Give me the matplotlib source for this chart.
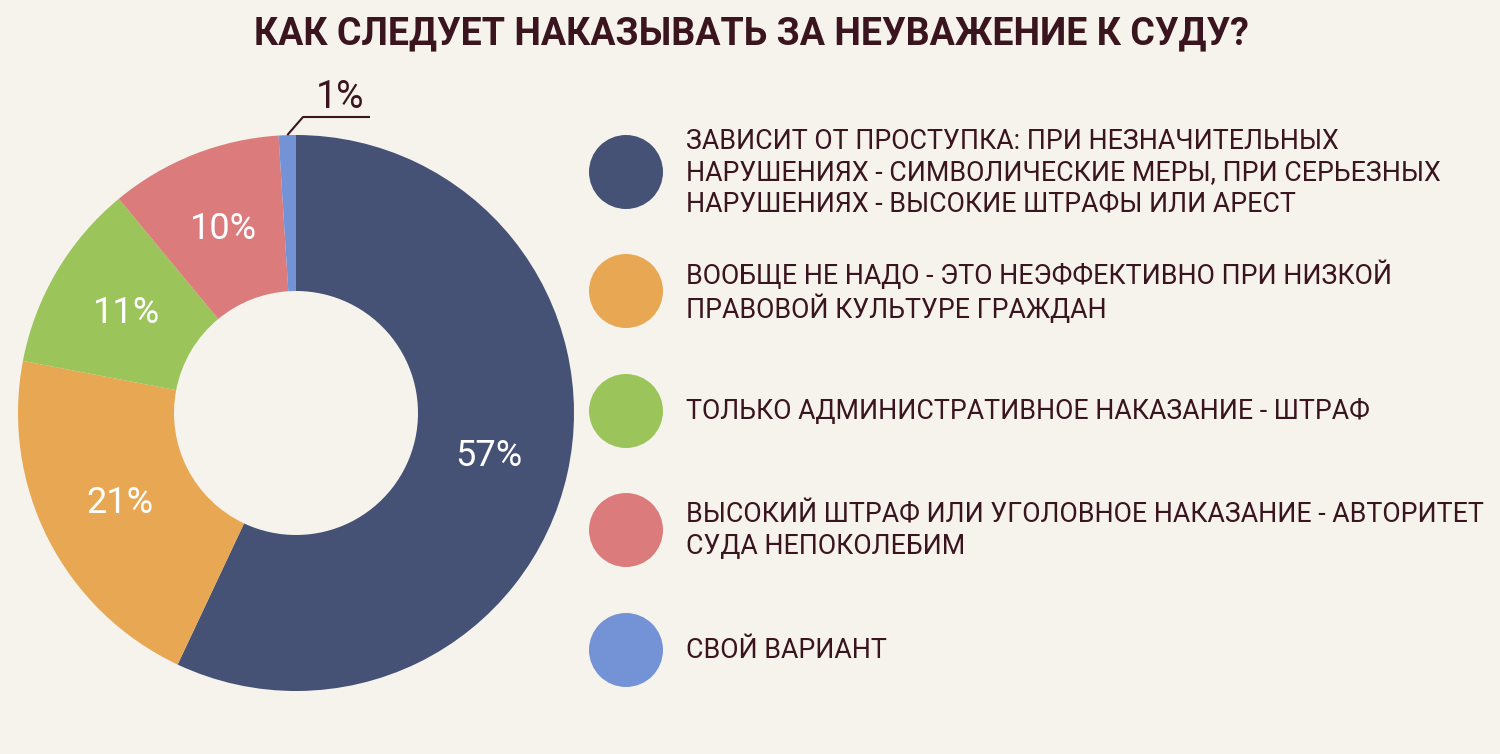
import matplotlib
matplotlib.use("Agg")
import matplotlib.pyplot as plt
from matplotlib.patches import Circle
import numpy as np

# data
title = "КАК СЛЕДУЕТ НАКАЗЫВАТЬ ЗА НЕУВАЖЕНИЕ К СУДУ?"
labels = [
    "ЗАВИСИТ ОТ ПРОСТУПКА: ПРИ НЕЗНАЧИТЕЛЬНЫХ\nНАРУШЕНИЯХ - СИМВОЛИЧЕСКИЕ МЕРЫ, ПРИ СЕРЬЕЗНЫХ\nНАРУШЕНИЯХ - ВЫСОКИЕ ШТРАФЫ ИЛИ АРЕСТ",
    "ВООБЩЕ НЕ НАДО - ЭТО НЕЭФФЕКТИВНО ПРИ НИЗКОЙ\nПРАВОВОЙ КУЛЬТУРЕ ГРАЖДАН",
    "ТОЛЬКО АДМИНИСТРАТИВНОЕ НАКАЗАНИЕ - ШТРАФ",
    "ВЫСОКИЙ ШТРАФ ИЛИ УГОЛОВНОЕ НАКАЗАНИЕ - АВТОРИТЕТ\nСУДА НЕПОКОЛЕБИМ",
    "СВОЙ ВАРИАНТ",
]
values = [57, 21, 11, 10, 1]
colors = ["#465275", "#e8a753", "#9bc45a", "#dc7b7b", "#7492d6"]

BG = "#f5f3ec"
TXT = "#3a1520"
W, H = 1500, 754

def Y(y):
    # image y (from top) -> axes y
    return H - y

fig = plt.figure(figsize=(15, 7.54), dpi=100, facecolor=BG)
ax = fig.add_axes([0, 0, 1, 1])
ax.set_facecolor(BG)

cx, cy, R, ring = 296, Y(413), 278, 156

def pct(p):
    return f"{p:.0f}%" if p >= 5 else ""

wedges, _, autotexts = ax.pie(
    values, colors=colors, startangle=90, counterclock=False,
    radius=R, center=(cx, cy), wedgeprops=dict(width=ring, linewidth=0),
    autopct=pct, pctdistance=0.71,
    textprops=dict(color="white", fontsize=26, family="Roboto"),
)

# small slice label with leader line
ang = np.deg2rad(90 - 360 * (sum(values[:-1]) + values[-1] / 2) / 100)
px, py = cx + R * np.cos(ang), cy + R * np.sin(ang)
ax.plot([px, 303, 370], [py, Y(117), Y(117)], color=TXT, lw=1.5, solid_capstyle="butt")
ax.text(340, Y(98), f"{values[-1]}%", ha="center", va="center", color=TXT,
        fontsize=27, family="Roboto")

# legend
legend_y = [172, 291, 411, 530, 650]
for lab, col, ly in zip(labels, colors, legend_y):
    ax.add_patch(Circle((626, Y(ly)), 37, color=col, lw=0))
    ax.text(686, Y(ly + 1), lab, ha="left", va="center", color=TXT,
            fontsize=19.3, family="Roboto", linespacing=1.2)

ax.text(751, Y(34), title, ha="center", va="center", color=TXT,
        fontsize=27, family="Roboto", fontweight="bold")

ax.set_xlim(0, W)
ax.set_ylim(0, H)
ax.set_aspect("equal")
ax.axis("off")

fig.savefig("out.png", dpi=100, facecolor=BG)
